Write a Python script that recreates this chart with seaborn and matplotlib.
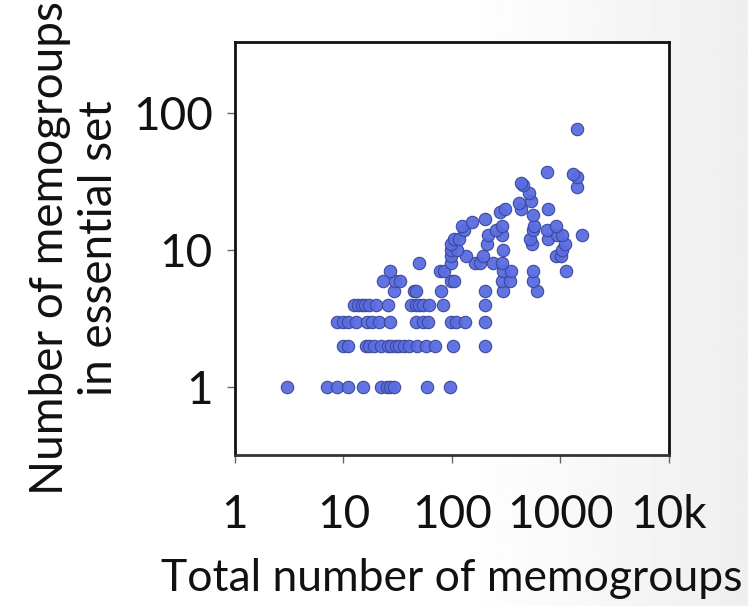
import matplotlib
matplotlib.use("Agg")
import matplotlib.pyplot as plt
import seaborn as sns
import pandas as pd
import numpy as np

# Data (x: total memogroups, y: memogroups in essential set)
total_memogroups = [
    # y = 1
    3, 7, 8.8, 11, 15, 22, 25, 27, 29, 59, 96,
    # y = 2
    9.9, 11, 16, 17, 19, 22, 25.5, 27.4, 30.4, 32.6, 36, 40, 48, 58, 69, 102, 200,
    # y = 3
    8.8, 9.9, 10.9, 13.1, 16.6, 18.5, 21.3, 26.8, 46.6, 53.7, 59.7, 98, 109, 131, 200,
    # y = 4
    12.5, 13.7, 14.7, 15.8, 17.2, 19.9, 25.8, 41.9, 46.6, 49.3, 53.7, 61.9, 82, 200,
    # y = 5
    29, 45, 47, 79, 200, 295, 602,
    # y = 6
    23, 30, 33, 98, 104, 286, 341, 560,
    # y = 7
    27, 77, 85, 295, 353, 560, 1125,
    # y = 8
    50, 98, 162, 180, 239, 286,
    # y = 9
    98, 135, 193, 908, 1010,
    # y = 10
    98, 112, 295, 1026,
    # y = 11
    98, 210, 541, 1102,
    # y = 12
    104, 117, 522, 771,
    # y = 13
    214, 292, 922, 1026, 1571,
    # y = 14
    128, 257, 553, 755,
    # y = 15
    124, 286, 569, 908,
    # y >= 16
    154, 203, 560, 275, 306, 431, 771, 415, 530, 514, 1431, 453, 437, 1431, 1297, 755, 1413,
]
essential_memogroups = (
    [1] * 11 + [2] * 17 + [3] * 15 + [4] * 14 + [5] * 7 + [6] * 8 + [7] * 7 + [8] * 6
    + [9] * 5 + [10] * 4 + [11] * 4 + [12] * 4 + [13] * 5 + [14] * 4 + [15] * 4
    + [16, 17, 18, 19, 20, 20, 20, 22, 23, 26, 29, 30, 31, 34, 36, 37, 76]
)

x_ticks = [1, 10, 100, 1000, 10000]
x_tick_labels = ["1", "10", "100", "1000", "10k"]
y_ticks = [1, 10, 100]
y_tick_labels = ["1", "10", "100"]

df = pd.DataFrame({"total": total_memogroups, "essential": essential_memogroups})

sns.set_style("ticks")
plt.rcParams["font.family"] = ["Lato", "DejaVu Sans"]

fig = plt.figure(figsize=(7.48, 6.06), dpi=100)

# subtle light-grey background gradient toward the right edge
bg = fig.add_axes([0, 0, 1, 1], zorder=-5)
cols = np.linspace(0, 1, 400)
shade = 1 - 0.065 * np.clip((cols - 0.62) / 0.38, 0, 1)
grad = np.tile(shade, (10, 1))
bg.imshow(grad, cmap="gray", vmin=0, vmax=1, aspect="auto", extent=[0, 1, 0, 1])
bg.axis("off")

ax = fig.add_axes([235 / 748, 1 - 455 / 606, (669 - 235) / 748, (455 - 42) / 606])
ax.set_facecolor("white")

sns.scatterplot(data=df, x="total", y="essential", ax=ax,
                color="#5a6de0", edgecolor="#3a4699", linewidth=0.8,
                s=80, alpha=0.95, zorder=3)

ax.set_xscale("log")
ax.set_yscale("log")
ax.set_xlim(1, 10000)
ax.set_ylim(0.32, 330)
ax.set_xticks(x_ticks)
ax.set_xticklabels(x_tick_labels)
ax.set_yticks(y_ticks)
ax.set_yticklabels(y_tick_labels)
ax.minorticks_off()

ax.tick_params(axis="both", which="major", labelsize=33, length=6, width=1,
               color="#666666", labelcolor="#111111")
ax.tick_params(axis="x", pad=22)
ax.tick_params(axis="y", pad=10)

for side in ["top", "right", "left"]:
    ax.spines[side].set_visible(True)
    ax.spines[side].set_color("#111111")
    ax.spines[side].set_linewidth(2.0)
ax.spines["bottom"].set_color("#333333")
ax.spines["bottom"].set_linewidth(2.0)

ax.set_xlabel("Total number of memogroups", fontsize=32, color="#111111")
ax.xaxis.set_label_coords(0.5, -0.25)
ax.set_ylabel("Number of memogroups\nin essential set", fontsize=33, color="#111111",
              linespacing=1.2)
ax.yaxis.set_label_coords(-0.265, 0.5)

fig.savefig("out.png", dpi=100, facecolor="white")
